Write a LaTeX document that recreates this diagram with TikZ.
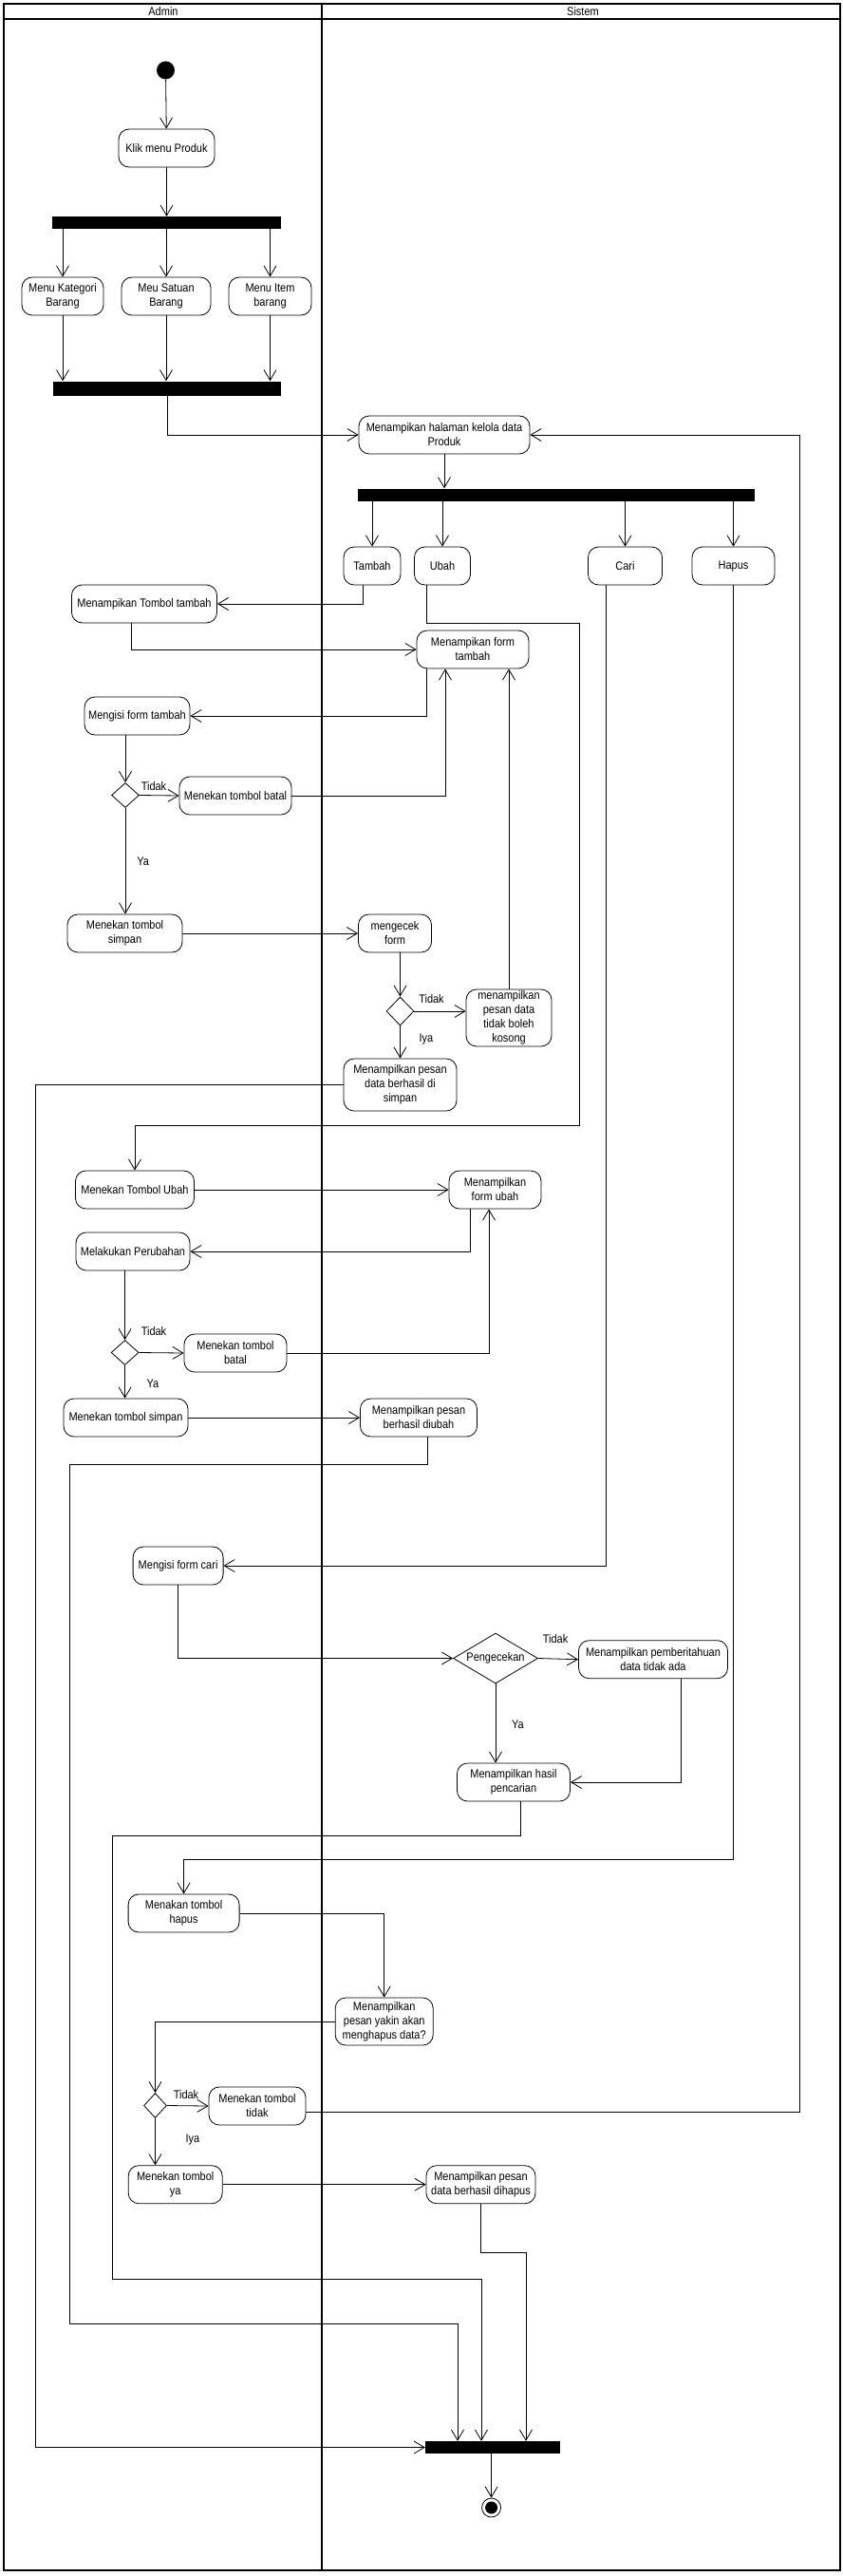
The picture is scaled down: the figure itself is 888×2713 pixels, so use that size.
\documentclass[tikz,border=0pt]{standalone}
\usepackage{fontspec}
\newfontfamily\diagfont[FakeStretch=0.88]{Liberation Sans}
\usetikzlibrary{arrows.meta,shapes.geometric}

\begin{document}
\begin{tikzpicture}[x=1pt,y=-1pt,
  font=\diagfont\fontsize{12.5pt}{15pt}\selectfont,
  act/.style={draw, rounded corners=11pt, align=center, inner sep=1pt, line width=0.8pt,
    minimum width=#1, minimum height=40pt},
  bar/.style={fill=black, inner sep=0pt},
  dec/.style={draw, diamond, inner sep=0pt, line width=0.8pt, minimum width=29pt, minimum height=26pt},
  lbl/.style={inner sep=1pt},
  startnode/.style={circle, fill=black, inner sep=0pt, minimum size=19pt},
  endnode/.style={circle, draw, line width=0.8pt, inner sep=0pt, minimum size=20pt},
  flow/.style={line width=0.8pt, -{Straight Barb[length=11pt,width=13pt]}},
  lane/.style={line width=1.6pt}]
  \useasboundingbox (0,0) rectangle (888,2713);

  % Draw the swimlanes
  \draw[lane] (4,4) rectangle (885,2707);
  \draw[lane] (4,20) -- (885,20);
  \draw[lane] (339,4) -- (339,2707);
  \node (admin) at (172,12) {Admin};
  \node (sistem) at (614,12) {Sistem};

  % Draw the start and the menu
  \node[startnode] (start) at (174.5,74) {};
  \node[act=101pt] (klik) at (175.5,156) {Klik menu Produk};
  \node[bar, minimum width=241pt, minimum height=13pt] (fork1) at (175.5,234.5) {};
  \node[act=86pt] (kategori) at (66,312) {Menu Kategori\\Barang};
  \node[act=94pt] (satuan) at (175,312) {Meu Satuan\\Barang};
  \node[act=87pt] (item) at (284.5,312) {Menu Item\\barang};
  \node[bar, minimum width=240pt, minimum height=15pt] (join1) at (176,409) {};

  \draw[flow] (start) -- (klik);
  \draw[flow] (klik) -- (klik |- fork1.north);
  \draw[flow] (fork1.south -| kategori) -- (kategori);
  \draw[flow] (fork1.south -| satuan) -- (satuan);
  \draw[flow] (fork1.south -| item) -- (item);
  \draw[flow] (kategori) -- (kategori |- join1.north);
  \draw[flow] (satuan) -- (satuan |- join1.north);
  \draw[flow] (item) -- (item |- join1.north);

  % Draw the main page and its choices
  \node[act=180pt] (halaman) at (468,458) {Menampikan halaman kelola data\\Produk};
  \node[bar, minimum width=418pt, minimum height=13pt] (fork2) at (586,521) {};
  \node[act=60pt] (tambah) at (392,596) {Tambah};
  \node[act=59pt] (ubah) at (466,596) {Ubah};
  \node[act=78pt] (cari) at (658.5,596) {Cari};
  \node[act=87pt] (hapus) at (772.5,596) {Hapus};

  \draw[flow] (join1) |- (halaman.west);
  \draw[flow] (halaman) -- (halaman |- fork2.north);
  \draw[flow] (fork2.south -| tambah) -- (tambah);
  \draw[flow] (fork2.south -| ubah) -- (ubah);
  \draw[flow] (fork2.south -| cari) -- (cari);
  \draw[flow] (fork2.south -| hapus) -- (hapus);

  % Draw the tambah flow
  \node[act=153pt] (tombolTambah) at (152,636) {Menampikan Tombol tambah};
  \node[act=118pt] (formTambah) at (498,684) {Menampikan form\\tambah};
  \node[act=111pt] (isiTambah) at (144.5,754) {Mengisi form tambah};
  \node[dec] (cek1) at (132,837.5) {};
  \node[act=118pt] (batal1) at (248,838) {Menekan tombol batal};
  \node[act=121pt] (simpan1) at (131.5,983) {Menekan tombol\\simpan};
  \node[act=77pt] (cekForm) at (416,983) {mengecek\\form};
  \node[dec, minimum height=30pt] (cek2) at (421.5,1065) {};
  \node[act=90pt, minimum height=60pt] (kosong) at (536,1072) {menampilkan\\pesan data\\tidak boleh\\kosong};
  \node[act=119pt, minimum height=55pt] (berhasilSimpan) at (421.5,1142.5) {Menampilkan pesan\\data berhasil di\\simpan};
  \node[lbl] (tidak1) at (162,827.7) {Tidak};
  \node[lbl] (ya1) at (150.6,907) {Ya};
  \node[lbl] (tidak2) at (454.5,1051.7) {Tidak};
  \node[lbl] (iya2) at (449,1094) {Iya};

  \draw[flow] ([xshift=-10pt]tambah.south) |- (tombolTambah.east);
  \draw[flow] ([xshift=-14pt]tombolTambah.south) |- (formTambah.west);
  \draw[flow] ([xshift=-49pt]formTambah.south) |- (isiTambah.east);
  \draw[flow] (isiTambah.south -| cek1.north) -- (cek1.north);
  \draw[flow] (cek1.east) -- (batal1.west);
  \draw[flow] (batal1.east) -| ([xshift=-29pt]formTambah.south);
  \draw[flow] (cek1.south) -- (cek1.south |- simpan1.north);
  \draw[flow] (simpan1.east) -- (cekForm.west);
  \draw[flow] (cekForm.south -| cek2.north) -- (cek2.north);
  \draw[flow] (cek2.east) -- (cek2.east -| kosong.west);
  \draw[flow] (kosong.north) -- (kosong.north |- formTambah.south);
  \draw[flow] (cek2.south) -- (cek2.south |- berhasilSimpan.north);

  % Draw the ubah flow
  \node[act=125pt] (tombolUbah) at (142,1253) {Menekan Tombol Ubah};
  \node[act=97pt] (formUbah) at (521.5,1253) {Menampilkan\\form ubah};
  \node[act=120pt] (perubahan) at (140,1318) {Melakukan Perubahan};
  \node[dec] (cek3) at (131.6,1424.5) {};
  \node[act=108pt] (batal2) at (248,1425) {Menekan tombol\\batal};
  \node[act=131pt] (simpan2) at (132.5,1493) {Menekan tombol simpan};
  \node[act=123pt] (berhasilUbah) at (441,1493) {Menampilkan pesan\\berhasil diubah};
  \node[lbl] (tidak3) at (162,1401.7) {Tidak};
  \node[lbl] (ya3) at (161,1457) {Ya};

  \coordinate (ubahA) at (610,656);
  \coordinate (ubahB) at (610,1185);
  \draw[flow] ([xshift=-17pt]ubah.south) |- (ubahA) -- (ubahB) -| (tombolUbah.north);
  \draw[flow] (tombolUbah.east) -- (formUbah.west);
  \draw[flow] ([xshift=-26.5pt]formUbah.south) |- (perubahan.east);
  \draw[flow] (perubahan.south -| cek3.north) -- (cek3.north);
  \draw[flow] (cek3.east) -- (batal2.west);
  \draw[flow] (batal2.east) -| ([xshift=-6.5pt]formUbah.south);
  \draw[flow] (cek3.south) -- (cek3.south |- simpan2.north);
  \draw[flow] (simpan2.east) -- (berhasilUbah.west);

  % Draw the cari flow
  \node[act=95pt] (isiCari) at (187.6,1649) {Mengisi form cari};
  \node[dec, aspect=1.68, minimum width=89pt, minimum height=53pt] (pengecekan) at (522,1746.5) {Pengecekan};
  \node[act=157pt] (tidakAda) at (688,1747.7) {Menampilkan pemberitahuan\\data tidak ada};
  \node[act=119pt] (hasilCari) at (541,1877) {Menampilkan hasil\\pencarian};
  \node[lbl] (tidak5) at (585,1725.7) {Tidak};
  \node[lbl] (ya5) at (545.5,1816.7) {Ya};

  \draw[flow] ([xshift=-20pt]cari.south) |- (isiCari.east);
  \draw[flow] (isiCari.south) |- (pengecekan.west);
  \draw[flow] (pengecekan.east) -- (tidakAda.west);
  \draw[flow] ([xshift=29pt]tidakAda.south) |- (hasilCari.east);
  \draw[flow] (pengecekan.south) -- (pengecekan.south |- hasilCari.north);

  % Draw the hapus flow
  \node[act=117pt] (tombolHapus) at (193.6,2015) {Menakan tombol\\hapus};
  \node[act=103pt, minimum height=50pt] (yakin) at (404.7,2129) {Menampilkan\\pesan yakin akan\\menghapus data?};
  \node[dec, minimum width=24pt] (cek4) at (163.5,2217.5) {};
  \node[act=102pt] (tidak) at (271,2218) {Menekan tombol\\tidak};
  \node[act=99pt] (ya) at (184.7,2300.7) {Menekan tombol\\ya};
  \node[act=115pt] (dihapus) at (506.5,2300.7) {Menampilkan pesan\\data berhasil dihapus};
  \node[lbl] (tidak4) at (196,2205.7) {Tidak};
  \node[lbl] (iya4) at (203,2253) {Iya};

  \coordinate (hapusA) at (771,1958);
  \coordinate (tidakA) at (842,2224);
  \draw[flow] (hapus.south) |- (hapusA) -| (tombolHapus.north);
  \draw[flow] (tombolHapus.east) -| (yakin.north);
  \draw[flow] (yakin.west) -| (cek4.north);
  \draw[flow] (cek4.east) -- (tidak.west);
  \draw[flow] ([yshift=-6pt]tidak.east) -- (tidakA) |- (halaman.east);
  \draw[flow] (cek4.south) -- (cek4.south |- ya.north);
  \draw[flow] (ya.east) -- (dihapus.west);

  % Draw the final join and the end
  \node[bar, minimum width=142pt, minimum height=13pt] (join2) at (519,2577.5) {};
  \node[endnode] (end) at (517.6,2641) {};
  \fill (end.center) circle (6.5pt);

  \coordinate (simpanA) at (37,1139);
  \coordinate (ubahC) at (73,1542);
  \coordinate (ubahD) at (482,2447);
  \coordinate (cariA) at (118,1933);
  \coordinate (cariB) at (507,2400);
  \coordinate (hapusB) at (554,2372);
  \draw[flow] (berhasilSimpan.west) -| (simpanA |- join2.west) -- (join2.west);
  \draw[flow] ([xshift=9pt]berhasilUbah.south) |- (ubahC) |- (ubahD) -- (ubahD |- join2.north);
  \draw[flow] ([xshift=7pt]hasilCari.south) |- (cariA) |- (cariB) -- (cariB |- join2.north);
  \draw[flow] (dihapus.south) |- (hapusB) -- (hapusB |- join2.north);
  \draw[flow] (join2.south -| end) -- (end.north);

\end{tikzpicture}
\end{document}
